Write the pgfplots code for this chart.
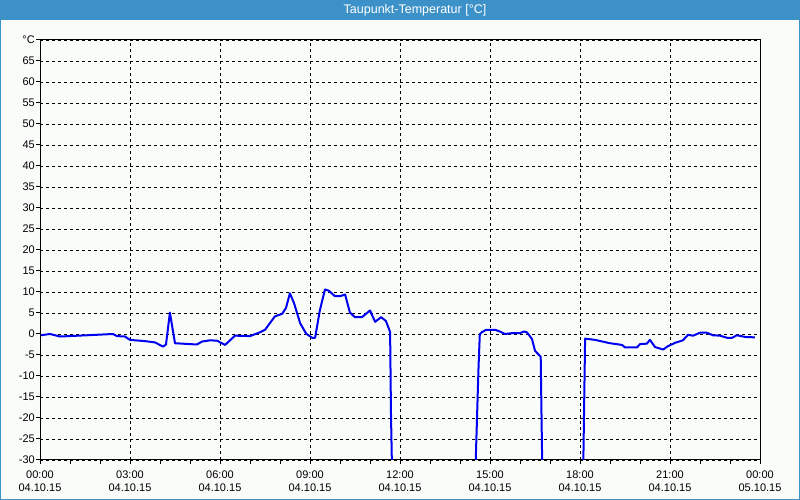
\documentclass[border=0pt]{standalone}
\usepackage{pgfplots}
\pgfplotsset{compat=1.18}
\usepackage{fontspec}
\setmainfont{Liberation Sans}
\definecolor{bg}{RGB}{250,252,250}
\definecolor{barblue}{RGB}{60,146,200}
\definecolor{lineblue}{RGB}{0,0,240}
\begin{document}
\begin{tikzpicture}[x=1pt,y=1pt]
\useasboundingbox (0,0) rectangle (800,500);
\fill[bg] (0,0) rectangle (800,500);
\fill[barblue] (0,480) rectangle (800,500);
\draw[barblue, line width=1pt] (0.5,0.5) rectangle (799.5,499.5);
\node[text=white, font=\fontsize{12.5}{14}\selectfont] at (415,490) {Taupunkt-Temperatur [°C]};
\begin{axis}[at={(40pt,40pt)}, anchor=south west, width=720pt, height=420pt, scale only axis,
  xmin=0, xmax=24, ymin=-30, ymax=70,
  axis line style={black, line width=1pt},
  xtick={0,3,...,24},
  minor xtick={1,2,4,5,7,8,10,11,13,14,16,17,19,20,22,23},
  xticklabels={{00:00\\04.10.15},{03:00\\04.10.15},{06:00\\04.10.15},{09:00\\04.10.15},{12:00\\04.10.15},{15:00\\04.10.15},{18:00\\04.10.15},{21:00\\04.10.15},{00:00\\05.10.15}},
  xticklabel style={align=center, font=\fontsize{11}{13}\selectfont, inner sep=2pt, yshift=-5pt},
  ytick={-30,-25,...,70},
  yticklabels={-30,-25,-20,-15,-10,-5,0,5,10,15,20,25,30,35,40,45,50,55,60,65,°C},
  yticklabel style={font=\fontsize{11}{13}\selectfont, inner sep=1pt},
  tick align=outside, tick pos=left,
  major tick length=4pt, minor tick length=4pt,
  every tick/.style={black, line width=1pt},
  minor tick style={black, line width=1pt},
  grid=major,
  major grid style={black, dash pattern=on 3pt off 3pt, line width=0.8pt},
  clip=true,
]
\addplot[lineblue, line width=2pt, line join=round] coordinates {
(0.03,-0.3) (0.33,0) (0.67,-0.6) (1.57,-0.3) (2.43,0) (2.57,-0.5) (2.83,-0.6)
(3.0,-1.4) (3.5,-1.7) (3.83,-2.0) (4.1,-3.0) (4.2,-2.5) (4.33,5.1) (4.5,-2.2)
(5.23,-2.5) (5.4,-1.8) (5.67,-1.5) (5.9,-1.6) (6.17,-2.6) (6.5,-0.4) (7.0,-0.5)
(7.33,0.4) (7.5,1.0) (7.83,4.2) (8.07,4.8) (8.2,6.2) (8.33,9.7) (8.47,7.3)
(8.67,2.6) (8.87,0.1) (9.07,-0.9) (9.17,-0.9) (9.33,5.7) (9.5,10.6) (9.63,10.3)
(9.83,9.0) (10.0,9.0) (10.17,9.4) (10.33,5.1) (10.5,4.0) (10.73,4.0) (11.0,5.6)
(11.17,2.9) (11.37,4.0) (11.53,3.1) (11.67,0.5) (11.7,-19.3) (11.73,-31)
};
\addplot[lineblue, line width=2pt, line join=round] coordinates {
(14.52,-31) (14.56,-21.7) (14.59,-14.5) (14.62,-7.4) (14.66,-0.1) (14.72,0.4)
(14.87,1.0) (15.17,1.0) (15.33,0.6) (15.5,0) (15.73,0.2) (16.0,0.2) (16.13,0.6)
(16.23,0.4) (16.4,-1.2) (16.5,-4.0) (16.69,-5.4) (16.72,-20.9) (16.74,-31)
};
\addplot[lineblue, line width=2pt, line join=round] coordinates {
(18.11,-31) (18.17,-1.1) (18.5,-1.4) (19.0,-2.2) (19.4,-2.6) (19.5,-3.2)
(19.9,-3.2) (20.0,-2.4) (20.23,-2.3) (20.33,-1.4) (20.5,-3.1) (20.77,-3.7)
(20.93,-2.9) (21.17,-2.1) (21.43,-1.5) (21.6,-0.2) (21.77,-0.4) (22.0,0.3)
(22.23,0.3) (22.43,-0.3) (22.67,-0.4) (22.9,-0.9) (23.07,-0.9) (23.23,-0.3)
(23.5,-0.7) (23.83,-0.8)
};
\end{axis}
\end{tikzpicture}
\end{document}
